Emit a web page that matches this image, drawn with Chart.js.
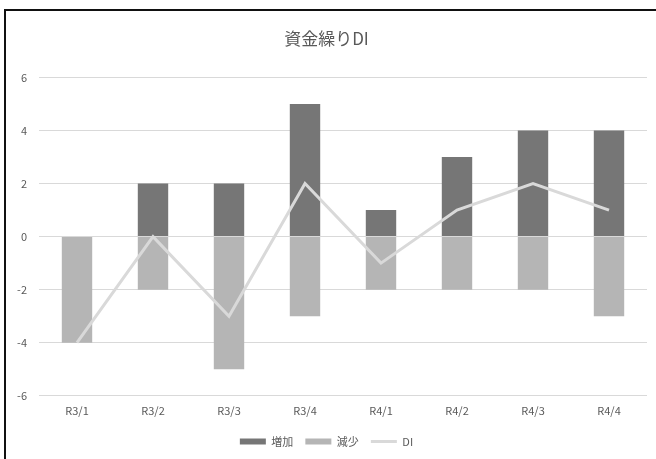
<!DOCTYPE html>
<html>
<head>
<meta charset="utf-8">
<script src="https://cdn.jsdelivr.net/npm/chart.js@4/dist/chart.umd.min.js"></script>
<style>
  html, body { margin: 0; padding: 0; background: #fff; overflow: hidden; }
  #frame {
    position: absolute; left: 4px; top: 9px; width: 652px; height: 452px;
    border-top: 2px solid #111; border-left: 2px solid #111;
  }
  #wrap { position: absolute; left: 0; top: 0; width: 650px; height: 450px; }
</style>
</head>
<body>
<div id="frame"><div id="wrap"><canvas id="c"></canvas></div></div>
<script>
// 四半期ごとの資金繰り（増加・減少の回答数とDI）
const categories = ['R3/1', 'R3/2', 'R3/3', 'R3/4', 'R4/1', 'R4/2', 'R4/3', 'R4/4'];
const increase = [0, 2, 2, 5, 1, 3, 4, 4];
const decrease = [-4, -2, -5, -3, -2, -2, -2, -3];
const di = [-4, 0, -3, 2, -1, 1, 2, 1];
const yTicks = [-6, -4, -2, 0, 2, 4, 6];

const labelFont = "'Liberation Sans Narrow', 'Noto Sans CJK JP', sans-serif";
const textColor = '#595959';

new Chart(document.getElementById('c'), {
  type: 'bar',
  data: {
    labels: categories,
    datasets: [
      {
        label: '増加', data: increase, backgroundColor: '#767676',
        stack: 'bars', order: 2, categoryPercentage: 1, barPercentage: 0.4
      },
      {
        label: '減少', data: decrease, backgroundColor: '#b5b5b5',
        stack: 'bars', order: 2, categoryPercentage: 1, barPercentage: 0.4
      },
      {
        type: 'line', label: 'DI', data: di, borderColor: '#d9d9d9',
        backgroundColor: '#d9d9d9', borderWidth: 3, pointRadius: 0,
        stack: 'line', order: 1, tension: 0
      }
    ]
  },
  options: {
    responsive: true,
    maintainAspectRatio: false,
    animation: false,
    layout: { padding: { left: 0, right: 9, top: 8, bottom: 4 } },
    plugins: {
      title: {
        display: true, text: '資金繰りDI', color: textColor,
        font: { family: "'Noto Sans CJK JP', sans-serif", size: 17, weight: 'normal' },
        padding: { top: 9, bottom: 29 }
      },
      legend: {
        position: 'bottom',
        labels: {
          color: textColor,
          font: { family: labelFont, size: 11 },
          usePointStyle: true,
          pointStyleWidth: 26,
          boxHeight: 6,
          padding: 12,
          generateLabels(chart) {
            return chart.data.datasets.map((ds, i) => ({
              text: ds.label,
              fillStyle: ds.backgroundColor,
              strokeStyle: ds.type === 'line' ? ds.borderColor : ds.backgroundColor,
              lineWidth: ds.type === 'line' ? 3 : 0,
              pointStyle: ds.type === 'line' ? 'line' : 'rect',
              fontColor: textColor,
              hidden: false,
              datasetIndex: i
            }));
          }
        }
      },
      tooltip: { enabled: false }
    },
    scales: {
      x: {
        stacked: true,
        afterFit(scale) { scale.height += 7; },
        grid: { display: false },
        border: { display: false },
        ticks: { color: textColor, font: { family: labelFont, size: 11 }, padding: 0 }
      },
      y: {
        stacked: true,
        min: -6, max: 6,
        afterBuildTicks(scale) { scale.ticks = yTicks.map(v => ({ value: v })); },
        afterFit(scale) { scale.width = 33; },
        grid: { color: '#d9d9d9', drawTicks: false },
        border: { display: false },
        ticks: { color: textColor, font: { family: labelFont, size: 11 }, padding: 12 }
      }
    }
  }
});
</script>
</body>
</html>
